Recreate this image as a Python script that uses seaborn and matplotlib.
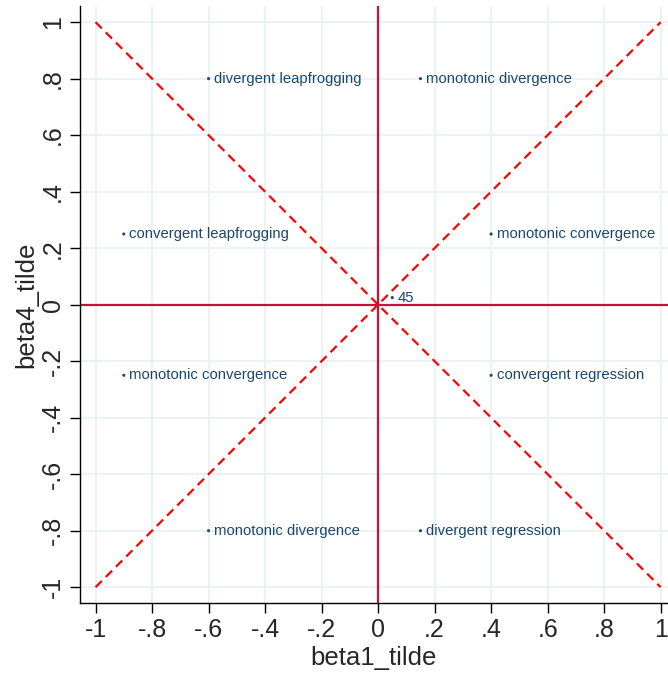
import matplotlib
matplotlib.use("Agg")
import matplotlib.pyplot as plt
import numpy as np
import pandas as pd
import seaborn as sns

# label points
beta1 = [-0.6, 0.15, -0.9, 0.4, -0.9, 0.4, -0.6, 0.15, 0.05]
beta4 = [0.8, 0.8, 0.25, 0.25, -0.25, -0.25, -0.8, -0.8, 0.025]
names = ["divergent leapfrogging", "monotonic divergence",
         "convergent leapfrogging", "monotonic convergence",
         "monotonic convergence", "convergent regression",
         "monotonic divergence", "divergent regression", "45"]

# reference diagonals
diag_x = [-1, 1]
diag_up = [-1, 1]
diag_down = [1, -1]

ticks = [-1, -0.8, -0.6, -0.4, -0.2, 0, 0.2, 0.4, 0.6, 0.8, 1]
tick_labels = ["-1", "-.8", "-.6", "-.4", "-.2", "0", ".2", ".4", ".6", ".8", "1"]

df = pd.DataFrame({"beta1_tilde": beta1, "beta4_tilde": beta4, "name": names})

sns.set_style("white")
plt.rcParams["font.family"] = ["Liberation Sans", "DejaVu Sans"]

fig = plt.figure(figsize=(6.68, 6.74), dpi=100)
ax = fig.add_axes([80 / 668, 71 / 674, 588 / 668, 597 / 674])

navy = "#1a476f"
grid_c = "#eaf2f3"

for t in ticks:
    ax.axvline(t, color=grid_c, lw=1.3, zorder=0)
    ax.axhline(t, color=grid_c, lw=1.3, zorder=0)

ax.plot(diag_x, diag_up, color="red", lw=1.6, ls=(0, (4, 2.5)), zorder=2)
ax.plot(diag_x, diag_down, color="red", lw=1.6, ls=(0, (4, 2.5)), zorder=2)
ax.axvline(0, color="#c8103e", lw=1.6, zorder=1)
ax.axhline(0, color="#c8103e", lw=1.6, zorder=1)

sns.scatterplot(data=df, x="beta1_tilde", y="beta4_tilde", ax=ax,
                color=navy, s=5, edgecolor="none", zorder=3)
for _, r in df.iterrows():
    ax.annotate(r["name"], (r["beta1_tilde"], r["beta4_tilde"]),
                xytext=(4, 0), textcoords="offset points",
                va="center", ha="left", fontsize=10.7, color=navy)

ax.set_xlim(-1.055, 1.026)
ax.set_ylim(-1.056, 1.057)
ax.set_xticks(ticks)
ax.set_xticklabels(tick_labels, fontsize=18)
ax.set_yticks(ticks)
ax.set_yticklabels(tick_labels, fontsize=18, rotation=90, va="center")
ax.tick_params(axis="both", length=7, width=1, color="black", pad=4,
               left=True, bottom=True)
ax.set_xlabel("beta1_tilde", fontsize=18.5, labelpad=3)
ax.set_ylabel("beta4_tilde", fontsize=18.5, labelpad=2)
for s in ["top", "right"]:
    ax.spines[s].set_visible(False)
for s in ["left", "bottom"]:
    ax.spines[s].set_color("black")
    ax.spines[s].set_linewidth(1)

fig.savefig("out.png", dpi=100)
